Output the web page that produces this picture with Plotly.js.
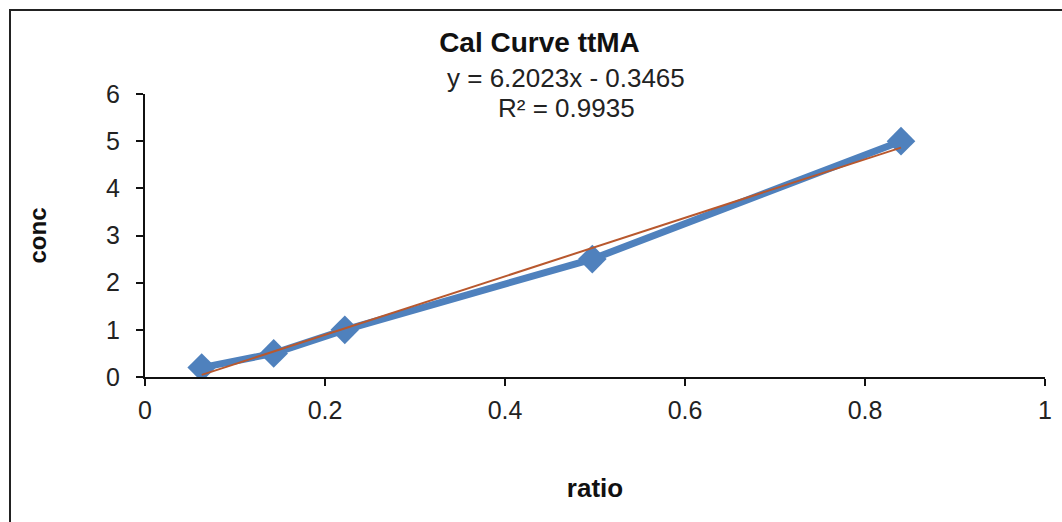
<!DOCTYPE html>
<html>
<head>
<meta charset="utf-8">
<script src="https://cdn.plot.ly/plotly-3.0.1.min.js"></script>
<style>
html,body{margin:0;padding:0;background:#fff;}
#frame{position:absolute;left:9px;top:9px;width:1060px;height:520px;border-left:2px solid #222;border-top:2px solid #222;}
#chart{position:absolute;left:0;top:0;width:1062px;height:522px;}
</style>
</head>
<body>
<div id="chart"></div>
<div id="frame"></div>
<script>
const ratio = [0.063, 0.143, 0.222, 0.497, 0.840];
const conc = [0.2, 0.5, 1.0, 2.5, 5.0];
const slope = 6.2023;
const intercept = -0.3465;
const r2 = 0.9935;
const xTicks = [0, 0.2, 0.4, 0.6, 0.8, 1];
const xTickLabels = ['0', '0.2', '0.4', '0.6', '0.8', '1'];
const yTicks = [0, 1, 2, 3, 4, 5, 6];

const xMin = Math.min(...ratio), xMax = Math.max(...ratio);
const trendX = [xMin, xMax];
const trendY = trendX.map(x => slope * x + intercept);

const font = 'Liberation Sans, Arial, sans-serif';

const data = [
  {x: ratio, y: conc, type: 'scatter', mode: 'lines+markers', name: 'conc',
   line: {color: '#4f81bd', width: 7},
   marker: {symbol: 'diamond', size: 22, color: '#4f81bd'}},
  {x: trendX, y: trendY, type: 'scatter', mode: 'lines', name: 'Linear (conc)',
   line: {color: '#b8582e', width: 2}}
];

const layout = {
  width: 1062, height: 522,
  margin: {l: 145, r: 17, t: 94, b: 145},
  paper_bgcolor: '#fff', plot_bgcolor: '#fff',
  showlegend: false,
  font: {family: font, color: '#222', size: 25},
  title: {text: '<b>Cal Curve ttMA</b>', x: 0.508, xanchor: 'center', y: 0.92, yanchor: 'middle',
          font: {family: font, size: 28, color: '#111'}},
  xaxis: {range: [0, 1], tickvals: xTicks, ticktext: xTickLabels, showgrid: false, zeroline: false,
          showline: true, linecolor: '#111', linewidth: 2, ticks: 'outside', ticklen: 7, tickwidth: 2, tickcolor: '#111',
          ticklabelstandoff: 3,
          tickfont: {family: font, size: 25, color: '#222'},
          title: {text: '<b>ratio</b>', standoff: 56, font: {family: font, size: 26, color: '#111'}}},
  yaxis: {range: [0, 6], tickvals: yTicks, showgrid: false, zeroline: false,
          showline: true, linecolor: '#111', linewidth: 2, ticks: 'outside', ticklen: 7, tickwidth: 2, tickcolor: '#111',
          ticklabelstandoff: 11,
          tickfont: {family: font, size: 25, color: '#222'},
          title: {text: '<b>conc</b>', standoff: 53, font: {family: font, size: 24, color: '#111'}}},
  annotations: [
    {xref: 'paper', yref: 'paper', x: 0.468, y: 1.057, text: 'y = ' + slope.toFixed(4) + 'x - ' + Math.abs(intercept).toFixed(4),
     showarrow: false, xanchor: 'center', yanchor: 'middle', font: {family: font, size: 26, color: '#222'}},
    {xref: 'paper', yref: 'paper', x: 0.468, y: 0.951, text: 'R² = ' + r2.toFixed(4),
     showarrow: false, xanchor: 'center', yanchor: 'middle', font: {family: font, size: 26, color: '#222'}}
  ]
};

Plotly.newPlot('chart', data, layout, {displayModeBar: false, staticPlot: true});
</script>
</body>
</html>
